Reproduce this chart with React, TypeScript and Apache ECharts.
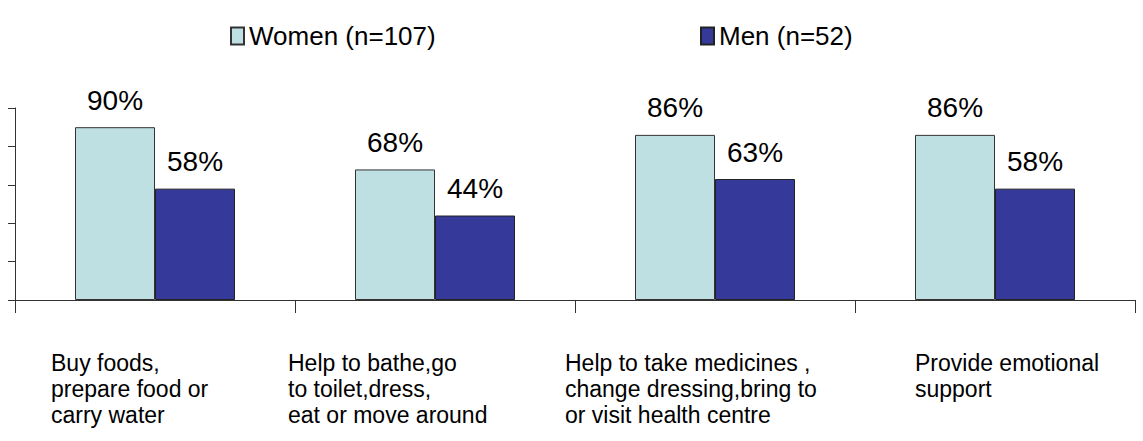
import React, { useEffect, useRef } from "react";
import * as echarts from "echarts";

const categories = [
  "Buy foods,\nprepare food or\ncarry water",
  "Help to bathe,go\nto toilet,dress,\neat or move around",
  "Help to take medicines ,\nchange dressing,bring to\nor visit health centre",
  "Provide emotional\nsupport",
];
const seriesNames = ["Women (n=107)", "Men (n=52)"];
const women = [90, 68, 86, 86];
const men = [58, 44, 63, 58];

const FONT = "'Liberation Sans', Arial, Helvetica, sans-serif";
// label block widths so each label's left edge lands where the reference puts it
const labelBlockWidths = [208, 294, 300, 160];

export default function App() {
  const ref = useRef<HTMLDivElement>(null);
  useEffect(() => {
    document.body.style.margin = "0";
    const chart = echarts.init(ref.current!, null, { renderer: "svg" });
    const rich: any = {};
    labelBlockWidths.forEach((w, i) => {
      rich["c" + i] = {
        width: w,
        align: "left",
        fontSize: 23,
        lineHeight: 26,
        fontFamily: FONT,
        color: "#000",
      };
    });
    const legendText = { fontSize: 26, fontFamily: FONT, color: "#000" };
    chart.setOption({
      animation: false,
      backgroundColor: "#fff",
      legend: [
        {
          data: [seriesNames[0]],
          left: 225,
          top: 18,
          icon: "rect",
          itemWidth: 13,
          itemHeight: 17,
          itemGap: 6,
          textStyle: legendText,
        },
        {
          data: [seriesNames[1]],
          left: 695,
          top: 18,
          icon: "rect",
          itemWidth: 13,
          itemHeight: 17,
          itemGap: 6,
          textStyle: legendText,
        },
      ],
      grid: { left: 15, right: 8, top: 108, bottom: 141, containLabel: false },
      xAxis: {
        type: "category",
        data: categories,
        axisLine: { lineStyle: { color: "#333", width: 1 } },
        axisTick: { show: true, length: 13, lineStyle: { color: "#333" } },
        axisLabel: {
          margin: 50,
          align: "center",
          verticalAlign: "top",
          formatter: (v: string, i: number) =>
            v
              .split("\n")
              .map((l) => `{c${i}|${l}}`)
              .join("\n"),
          rich,
        },
      },
      yAxis: {
        type: "value",
        min: 0,
        max: 100,
        interval: 20,
        axisLine: { show: true, lineStyle: { color: "#333", width: 1 } },
        axisTick: { show: true, length: 7, lineStyle: { color: "#333" } },
        axisLabel: { show: false },
        splitLine: { show: false },
      },
      series: [
        {
          name: seriesNames[0],
          type: "bar",
          data: women,
          barWidth: 80,
          barGap: "0%",
          itemStyle: { color: "#BEE0E3", borderColor: "#333", borderWidth: 1 },
          label: {
            show: true,
            position: "top",
            distance: 13,
            formatter: "{c}%",
            fontSize: 28,
            fontFamily: FONT,
            color: "#000",
          },
        },
        {
          name: seriesNames[1],
          type: "bar",
          data: men,
          barWidth: 80,
          barGap: "0%",
          itemStyle: { color: "#35399A", borderColor: "#222", borderWidth: 1 },
          label: {
            show: true,
            position: "top",
            distance: 13,
            formatter: "{c}%",
            fontSize: 28,
            fontFamily: FONT,
            color: "#000",
          },
        },
      ],
    });
    return () => chart.dispose();
  }, []);
  return <div ref={ref} style={{ width: 1143, height: 441 }} />;
}
